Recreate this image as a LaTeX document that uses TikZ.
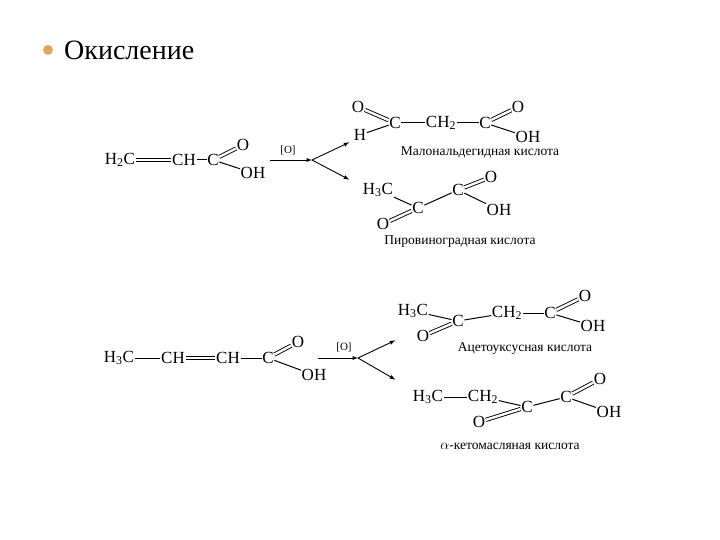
\documentclass[tikz,border=0pt]{standalone}
\usepackage{fontspec}
\setmainfont{Liberation Serif}
\begin{document}
\begin{tikzpicture}[x=1pt,y=-1pt,
  atm/.style={inner sep=0.5pt,font=\fontsize{17}{17}\selectfont},
  lab/.style={inner sep=0pt,font=\fontsize{13.5}{13.5}\selectfont},
  bd/.style={line width=1pt},
  db/.style={double,double distance=2.4pt,line width=0.9pt},
  arr/.style={line width=0.9pt,-latex}]
\useasboundingbox (0,0) rectangle (720,540);
\fill[fill={rgb,255:red,214;green,170;blue,100}] (48,50) circle (5) coordinate (bul);
\node[anchor=west,inner sep=0pt,font=\fontsize{28}{28}\selectfont] (title) at (64,50) {Окисление};
% reaction 1
\node[atm] (a1) at (120,160) {H\textsubscript{2}C};
\node[atm] (a2) at (184,160) {CH};
\node[atm] (a3) at (213,160) {C};
\node[atm] (a4) at (243,145) {O};
\node[atm] (a5) at (253,173) {OH};
\draw[db] (a1) -- (a2);
\draw[bd] (a2) -- (a3);
\draw[db] (a3) -- (a4);
\draw[bd] (a3) -- (a5);
\coordinate (s1) at (270,160); \coordinate (m1) at (312,160);
\draw[arr] (s1) -- (m1);
\node[inner sep=0pt,font=\fontsize{11}{11}\selectfont] (o1) at (288,150) {[O]};
\node[inner sep=0pt] (t1) at (350,142) {}; \node[inner sep=0pt] (t2) at (350,180) {};
\draw[arr] (m1) -- (t1); \draw[arr] (m1) -- (t2);
% malonaldehyde
\node[atm] (b1) at (358,107) {O};
\node[atm] (b2) at (395,123) {C};
\node[atm] (b3) at (441,123) {CH\textsubscript{2}};
\node[atm] (b4) at (485,123) {C};
\node[atm] (b5) at (518,107) {O};
\node[atm] (b6) at (528,137) {OH};
\node[atm] (b7) at (360,135) {H};
\draw[db] (b1) -- (b2); \draw[bd] (b7) -- (b2); \draw[bd] (b2) -- (b3);
\draw[bd] (b3) -- (b4); \draw[db] (b4) -- (b5); \draw[bd] (b4) -- (b6);
\node[lab] (L1) at (480,152) {Малональдегидная кислота};
% pyruvic
\node[atm] (c1) at (378,190) {H\textsubscript{3}C};
\node[atm] (c2) at (418,208) {C};
\node[atm] (c3) at (458,190) {C};
\node[atm] (c4) at (491,177) {O};
\node[atm] (c5) at (499,210) {OH};
\node[atm] (c6) at (383,224) {O};
\draw[bd] (c1) -- (c2); \draw[bd] (c2) -- (c3); \draw[db] (c3) -- (c4);
\draw[bd] (c3) -- (c5); \draw[db] (c2) -- (c6);
\node[lab] (L2) at (460,242) {Пировиноградная кислота};
% reaction 2
\node[atm] (d1) at (119,358) {H\textsubscript{3}C};
\node[atm] (d2) at (173,358) {CH};
\node[atm] (d3) at (228,358) {CH};
\node[atm] (d4) at (268,358) {C};
\node[atm] (d5) at (298,342) {O};
\node[atm] (d6) at (314,375) {OH};
\draw[bd] (d1) -- (d2); \draw[db] (d2) -- (d3); \draw[bd] (d3) -- (d4);
\draw[db] (d4) -- (d5); \draw[bd] (d4) -- (d6);
\coordinate (s2) at (318,358); \coordinate (m2) at (358,358);
\draw[arr] (s2) -- (m2);
\node[inner sep=0pt,font=\fontsize{11}{11}\selectfont] (o2) at (344,347) {[O]};
\node[inner sep=0pt] (t3) at (396,340) {}; \node[inner sep=0pt] (t4) at (396,380) {};
\draw[arr] (m2) -- (t3); \draw[arr] (m2) -- (t4);
% acetoacetic
\node[atm] (e1) at (413,311) {H\textsubscript{3}C};
\node[atm] (e2) at (458,321) {C};
\node[atm] (e3) at (507,313) {CH\textsubscript{2}};
\node[atm] (e4) at (550,313) {C};
\node[atm] (e5) at (585,296) {O};
\node[atm] (e6) at (593,326) {OH};
\node[atm] (e7) at (423,336) {O};
\draw[bd] (e1) -- (e2); \draw[bd] (e2) -- (e3); \draw[bd] (e3) -- (e4);
\draw[db] (e4) -- (e5); \draw[bd] (e4) -- (e6); \draw[db] (e2) -- (e7);
\node[lab] (L3) at (525,348) {Ацетоуксусная кислота};
% ketobutyric
\node[atm] (f1) at (428,397) {H\textsubscript{3}C};
\node[atm] (f2) at (483,397) {CH\textsubscript{2}};
\node[atm] (f3) at (527,407) {C};
\node[atm] (f4) at (566,397) {C};
\node[atm] (f5) at (600,379) {O};
\node[atm] (f6) at (609,412) {OH};
\node[atm] (f7) at (479,422) {O};
\draw[bd] (f1) -- (f2); \draw[bd] (f2) -- (f3); \draw[bd] (f3) -- (f4);
\draw[db] (f4) -- (f5); \draw[bd] (f4) -- (f6); \draw[db] (f3) -- (f7);
\node[lab] (L4) at (510,446) {$\alpha$-кетомасляная кислота};
\end{tikzpicture}
\end{document}
